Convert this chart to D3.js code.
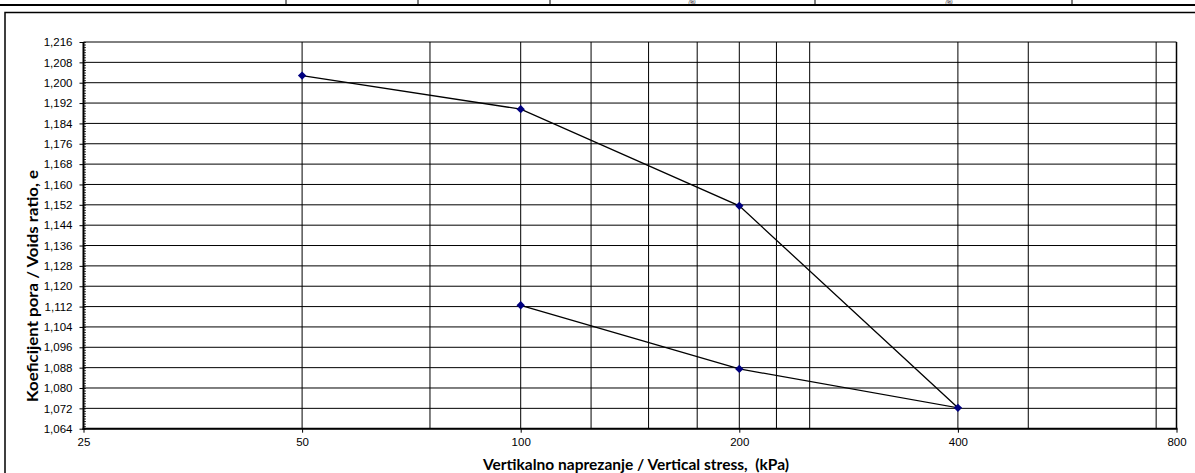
<!DOCTYPE html>
<html><head><meta charset="utf-8">
<script src="https://cdn.jsdelivr.net/npm/d3@7"></script>
<style>
html,body{margin:0;padding:0;background:#fff;overflow:hidden}
svg{display:block}
text{white-space:pre}
</style></head>
<body><svg id="c" width="1195" height="473"></svg>
<script>
// ---- data ----
const stress = [50, 100, 200, 400, 200, 100];           // kPa
const voidRatio = [1.2028, 1.1896, 1.1516, 1.0722, 1.0875, 1.1125];
const xTickValues = [25, 50, 100, 200, 400, 800];
const xGridValues = [50, 75, 100, 125, 150, 175, 200, 225, 250, 400, 500, 750, 800];
const yMin = 1.064, yMax = 1.216, yStep = 0.008, yMinorStep = 0.001;
const tableDividers = [286, 418, 550, 815, 1072];
const tableUnits = [{x: 692, t: "(%)"}, {x: 949, t: "(%)"}];
const xTitle = "Vertikalno naprezanje / Vertical stress,  (kPa)";
const yTitle = "Koeficijent pora / Voids ratio, e";

(function () {
const svg = d3.select("#c");
const L = 83.5, R = 1176.5, T = 42, B = 428.7;

const x = d3.scaleLog().base(2).domain([25, 800]).range([L, R]);
const y = d3.scaleLinear().domain([yMin, yMax]).range([B, T]);

const fmt = v => d3.format(".3f")(v).replace(".", ",");
const yTicks = d3.range(0, Math.round((yMax - yMin) / yStep) + 1).map(i => +(yMin + i * yStep).toFixed(3));
const yMinor = d3.range(0, Math.round((yMax - yMin) / yMinorStep) + 1).map(i => +(yMin + i * yMinorStep).toFixed(4));

// ---- top table fragment ----
const tbl = svg.append("g");
tableDividers.forEach(d => tbl.append("line").attr("x1", d).attr("x2", d).attr("y1", 0).attr("y2", 5).attr("stroke", "#000").attr("stroke-width", 1));
tbl.append("line").attr("x1", 0).attr("x2", 1195).attr("y1", 5).attr("y2", 5).attr("stroke", "#000").attr("stroke-width", 2.2);
tableUnits.forEach(u => tbl.append("text").attr("x", u.x).attr("y", 3.6).attr("text-anchor", "middle")
  .attr("font-family", "Liberation Sans, Arial, sans-serif").attr("font-size", 4.5).attr("font-style", "italic").text(u.t));

// chart frame
svg.append("rect").attr("x", 5).attr("y", 12.5).attr("width", 1195).attr("height", 470)
  .attr("fill", "none").attr("stroke", "#000").attr("stroke-width", 1.5);

// ---- gridlines ----
const grid = svg.append("g");
grid.selectAll("line.h").data(yTicks).join("line").attr("class", "h")
  .attr("x1", L).attr("x2", R).attr("y1", d => y(d)).attr("y2", d => y(d))
  .attr("stroke", "#000").attr("stroke-width", 1);
grid.selectAll("line.v").data(xGridValues).join("line").attr("class", "v")
  .attr("x1", d => x(d)).attr("x2", d => x(d)).attr("y1", T).attr("y2", B)
  .attr("stroke", "#000").attr("stroke-width", 1);

// ---- axes ----
const yAxis = d3.axisLeft(y).tickValues(yTicks).tickSize(4).tickPadding(7).tickFormat(fmt);
const gy = svg.append("g").attr("transform", `translate(${L},0)`).call(yAxis);
gy.select(".domain").remove();
gy.selectAll("text").attr("font-family", "Liberation Sans, Arial, sans-serif").attr("font-size", 11.5).attr("fill", "#000");
gy.selectAll(".tick line").attr("stroke", "#000");

// minor y ticks (inside)
const yMinorAxis = d3.axisRight(y).tickValues(yMinor).tickSize(2.5).tickFormat("");
const gym = svg.append("g").attr("transform", `translate(${L},0)`).call(yMinorAxis);
gym.select(".domain").remove();
gym.selectAll(".tick line").attr("stroke", "#000").attr("stroke-width", 0.8);

const xAxis = d3.axisBottom(x).tickValues(xTickValues).tickSize(4).tickPadding(5).tickFormat(d3.format("d"));
const gx = svg.append("g").attr("transform", `translate(0,${B})`).call(xAxis);
gx.select(".domain").remove();
gx.selectAll("text").attr("font-family", "Liberation Sans, Arial, sans-serif").attr("font-size", 11.5).attr("fill", "#000");
gx.selectAll(".tick line").attr("stroke", "#000");

// axis lines
svg.append("line").attr("x1", L).attr("x2", L).attr("y1", T).attr("y2", B + 1).attr("stroke", "#000").attr("stroke-width", 2);
svg.append("line").attr("x1", L - 1).attr("x2", R + 1).attr("y1", B).attr("y2", B).attr("stroke", "#000").attr("stroke-width", 2);
svg.append("line").attr("x1", R).attr("x2", R).attr("y1", T).attr("y2", B).attr("stroke", "#000").attr("stroke-width", 1.5);

// ---- data line ----
const pts = stress.map((s, i) => [s, voidRatio[i]]);
svg.append("path").datum(pts)
  .attr("d", d3.line().x(d => x(d[0])).y(d => y(d[1])))
  .attr("fill", "none").attr("stroke", "#000").attr("stroke-width", 1.3);
svg.selectAll("path.m").data(pts).join("path").attr("class", "m")
  .attr("d", d3.symbol(d3.symbolDiamond2, 45))
  .attr("transform", d => `translate(${x(d[0])},${y(d[1])})`)
  .attr("fill", "#000080");

// ---- titles ----
svg.append("text").attr("x", 636).attr("y", 469.5).attr("text-anchor", "middle")
  .attr("font-family", "Lato, Open Sans, sans-serif").attr("font-weight", "bold").attr("font-size", 15)
  .attr("textLength", 306).attr("lengthAdjust", "spacingAndGlyphs")
  .attr("fill", "#000").text(xTitle);
svg.append("text").attr("transform", `translate(38,286) rotate(-90)`).attr("text-anchor", "middle")
  .attr("font-family", "Lato, Open Sans, sans-serif").attr("font-weight", "bold").attr("font-size", 15)
  .attr("textLength", 232).attr("lengthAdjust", "spacingAndGlyphs")
  .attr("fill", "#000").text(yTitle);
})();
</script></body></html>
